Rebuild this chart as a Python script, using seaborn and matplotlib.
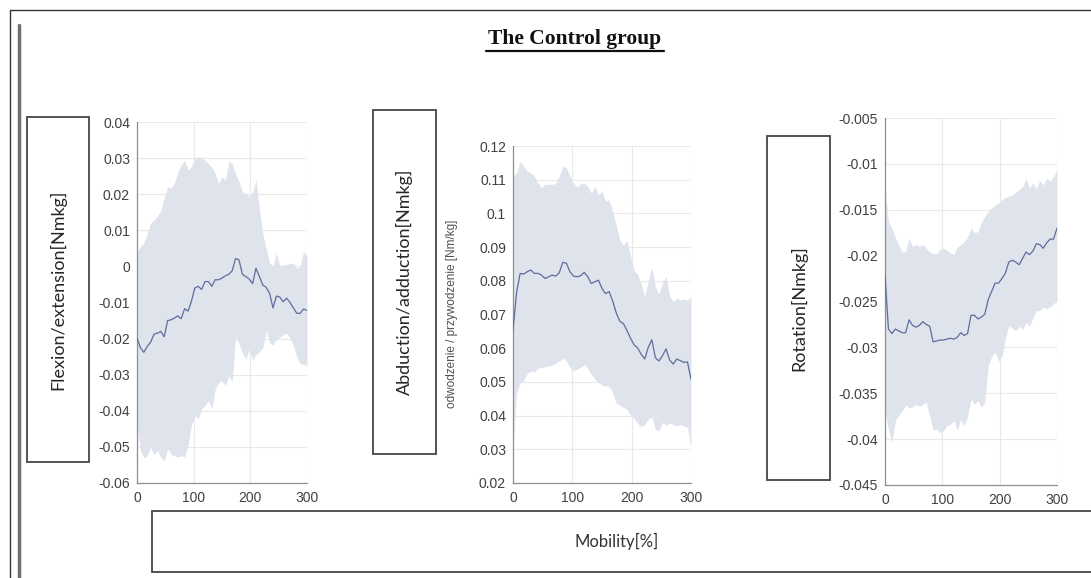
import numpy as np
import pandas as pd
import matplotlib
matplotlib.use("Agg")
import matplotlib.pyplot as plt
import seaborn as sns
from matplotlib.patches import Rectangle
from matplotlib.lines import Line2D

# ---- data: mean joint moment with its spread band, sampled along mobility [%] ----
mobility = list(range(0, 301, 6))

flex_mean = [-0.0198, -0.0225, -0.0238, -0.0222, -0.0210, -0.0188, -0.0185, -0.0180, -0.0195, -0.0150,
             -0.0148, -0.0143, -0.0137, -0.0145, -0.0117, -0.0124, -0.0097, -0.0060, -0.0055, -0.0064,
             -0.0042, -0.0042, -0.0055, -0.0037, -0.0037, -0.0032, -0.0026, -0.0022, -0.0012, 0.0022,
             0.0018, -0.0022, -0.0028, -0.0035, -0.0048, -0.0005, -0.0028, -0.0052, -0.0058, -0.0075,
             -0.0115, -0.0082, -0.0085, -0.0098, -0.0088, -0.0100, -0.0115, -0.0130, -0.0130, -0.0118,
             -0.0122]
flex_upper = [0.0040, 0.0055, 0.0065, 0.0090, 0.0120, 0.0128, 0.0140, 0.0155, 0.0190, 0.0220,
              0.0218, 0.0232, 0.0260, 0.0280, 0.0294, 0.0267, 0.0276, 0.0300, 0.0303, 0.0302,
              0.0294, 0.0285, 0.0275, 0.0257, 0.0230, 0.0248, 0.0239, 0.0290, 0.0285, 0.0255,
              0.0235, 0.0205, 0.0202, 0.0195, 0.0205, 0.0240, 0.0160, 0.0090, 0.0050, 0.0010,
              0.0000, 0.0038, 0.0000, 0.0005, 0.0005, 0.0008, 0.0009, -0.0005, 0.0000, 0.0041,
              0.0028]
flex_lower = [-0.0440, -0.0510, -0.0530, -0.0525, -0.0500, -0.0522, -0.0510, -0.0528, -0.0540, -0.0505,
              -0.0520, -0.0525, -0.0528, -0.0524, -0.0528, -0.0496, -0.0441, -0.0414, -0.0423, -0.0395,
              -0.0386, -0.0372, -0.0395, -0.0340, -0.0322, -0.0317, -0.0331, -0.0303, -0.0320, -0.0195,
              -0.0215, -0.0240, -0.0257, -0.0230, -0.0260, -0.0244, -0.0237, -0.0225, -0.0178, -0.0210,
              -0.0218, -0.0202, -0.0197, -0.0188, -0.0185, -0.0198, -0.0220, -0.0250, -0.0270, -0.0272,
              -0.0274]

abd_mean = [0.0653, 0.0765, 0.0822, 0.0820, 0.0827, 0.0832, 0.0822, 0.0822, 0.0817, 0.0807,
            0.0812, 0.0817, 0.0814, 0.0824, 0.0855, 0.0852, 0.0827, 0.0814, 0.0812, 0.0815,
            0.0825, 0.0812, 0.0792, 0.0797, 0.0802, 0.0777, 0.0762, 0.0768, 0.0740, 0.0705,
            0.0680, 0.0673, 0.0653, 0.0630, 0.0610, 0.0601, 0.0582, 0.0568, 0.0603, 0.0625,
            0.0572, 0.0562, 0.0578, 0.0598, 0.0565, 0.0553, 0.0568, 0.0563, 0.0558, 0.0559,
            0.0508]
abd_upper = [0.1110, 0.1120, 0.1155, 0.1140, 0.1125, 0.1120, 0.1110, 0.1090, 0.1076, 0.1086,
             0.1086, 0.1086, 0.1090, 0.1110, 0.1140, 0.1135, 0.1110, 0.1090, 0.1078, 0.1088,
             0.1090, 0.1080, 0.1060, 0.1080, 0.1056, 0.1066, 0.1036, 0.1040, 0.1005, 0.0965,
             0.0922, 0.0906, 0.0921, 0.0875, 0.0830, 0.0820, 0.0790, 0.0755, 0.0800, 0.0840,
             0.0782, 0.0760, 0.0795, 0.0812, 0.0755, 0.0738, 0.0748, 0.0742, 0.0746, 0.0743,
             0.0752]
abd_lower = [0.0310, 0.0465, 0.0498, 0.0505, 0.0525, 0.0532, 0.0530, 0.0540, 0.0543, 0.0545,
             0.0548, 0.0550, 0.0556, 0.0562, 0.0570, 0.0563, 0.0543, 0.0533, 0.0538, 0.0543,
             0.0552, 0.0540, 0.0522, 0.0508, 0.0498, 0.0490, 0.0489, 0.0485, 0.0470, 0.0437,
             0.0430, 0.0424, 0.0419, 0.0402, 0.0392, 0.0377, 0.0367, 0.0374, 0.0390, 0.0395,
             0.0358, 0.0355, 0.0380, 0.0372, 0.0378, 0.0374, 0.0369, 0.0374, 0.0369, 0.0365,
             0.0304]

rot_mean = [-0.0221, -0.0280, -0.0285, -0.0280, -0.0282, -0.0284, -0.0284, -0.0270, -0.0276, -0.0278,
            -0.0276, -0.0272, -0.0275, -0.0277, -0.0294, -0.0293, -0.0292, -0.0292, -0.0291, -0.0290,
            -0.0291, -0.0289, -0.0284, -0.0287, -0.0285, -0.0265, -0.0265, -0.0269, -0.0267, -0.0264,
            -0.0248, -0.0239, -0.0230, -0.0230, -0.0225, -0.0219, -0.0207, -0.0205, -0.0207, -0.0210,
            -0.0203, -0.0196, -0.0199, -0.0195, -0.0187, -0.0188, -0.0192, -0.0186, -0.0182, -0.0182,
            -0.0170]
rot_upper = [-0.0124, -0.0163, -0.0170, -0.0180, -0.0189, -0.0196, -0.0195, -0.0181, -0.0190, -0.0188,
             -0.0190, -0.0188, -0.0192, -0.0196, -0.0198, -0.0198, -0.0193, -0.0192, -0.0194, -0.0197,
             -0.0199, -0.0191, -0.0188, -0.0185, -0.0180, -0.0170, -0.0175, -0.0174, -0.0164, -0.0157,
             -0.0152, -0.0148, -0.0145, -0.0143, -0.0139, -0.0137, -0.0135, -0.0134, -0.0131, -0.0128,
             -0.0125, -0.0116, -0.0126, -0.0121, -0.0127, -0.0118, -0.0123, -0.0116, -0.0119, -0.0114,
             -0.0106]
rot_lower = [-0.0369, -0.0390, -0.0403, -0.0380, -0.0374, -0.0369, -0.0363, -0.0366, -0.0365, -0.0362,
             -0.0364, -0.0362, -0.0360, -0.0375, -0.0390, -0.0389, -0.0393, -0.0391, -0.0385, -0.0384,
             -0.0380, -0.0390, -0.0379, -0.0386, -0.0375, -0.0356, -0.0362, -0.0358, -0.0365, -0.0360,
             -0.0320, -0.0310, -0.0305, -0.0315, -0.0310, -0.0290, -0.0276, -0.0279, -0.0282, -0.0277,
             -0.0280, -0.0273, -0.0277, -0.0268, -0.0260, -0.0260, -0.0256, -0.0258, -0.0256, -0.0252,
             -0.0250]

x_ticks = [0, 100, 200, 300]
flex_ticks = [-0.06, -0.05, -0.04, -0.03, -0.02, -0.01, 0, 0.01, 0.02, 0.03, 0.04]
abd_ticks = [0.02, 0.03, 0.04, 0.05, 0.06, 0.07, 0.08, 0.09, 0.1, 0.11, 0.12]
rot_ticks = [-0.045, -0.04, -0.035, -0.03, -0.025, -0.02, -0.015, -0.01, -0.005]

title_text = "The Control group"
box_labels = ["Flexion/extension[Nmkg]", "Abduction/adduction[Nmkg]", "Rotation[Nmkg]"]
inner_ylabel = "odwodzenie / przywodzenie [Nm/kg]"
x_label = "Mobility[%]"

# ---- style ----
sns.set_theme(style="whitegrid")
plt.rcParams["font.family"] = ["Liberation Sans", "DejaVu Sans"]

W, H = 1091, 578
fig = plt.figure(figsize=(W / 100, H / 100), dpi=100)
fig.patch.set_facecolor("white")

LINE_C = "#5d6d9c"
FILL_C = "#dfe3ec"
TICK_C = "#404040"


def fx(px):
    return px / W


def fy(py):
    return 1 - py / H


def axes_at(left, top, right, bottom):
    return fig.add_axes([fx(left), fy(bottom), (right - left) / W, (bottom - top) / H])


panels = [
    ((137, 122, 307, 483), flex_mean, flex_lower, flex_upper, flex_ticks),
    ((513, 146, 691, 483), abd_mean, abd_lower, abd_upper, abd_ticks),
    ((885, 118, 1057, 485), rot_mean, rot_lower, rot_upper, rot_ticks),
]

for rect, mean, lower, upper, yt in panels:
    ax = axes_at(*rect)
    df = pd.DataFrame({"mobility": mobility, "mean": mean, "lower": lower, "upper": upper})
    ax.fill_between(df["mobility"], df["lower"], df["upper"], color=FILL_C, linewidth=0, zorder=1)
    sns.lineplot(data=df, x="mobility", y="mean", ax=ax, color=LINE_C, linewidth=0.9, zorder=3)
    ax.set_xlim(0, 300)
    ax.set_ylim(yt[0], yt[-1])
    ax.set_xticks(x_ticks)
    ax.set_yticks(yt)
    ax.set_yticklabels([f"{v:g}" for v in yt])
    ax.set_xlabel("")
    ax.set_ylabel("")
    ax.set_facecolor("white")
    ax.grid(True, color="#e9e9e9", linewidth=0.8)
    ax.set_axisbelow(True)
    for s in ("top", "right"):
        ax.spines[s].set_visible(False)
    for s in ("left", "bottom"):
        ax.spines[s].set_visible(True)
        ax.spines[s].set_color("#8f8f8f")
        ax.spines[s].set_linewidth(0.9)
    ax.tick_params(axis="both", labelsize=10, labelcolor=TICK_C, length=0)
    ax.tick_params(axis="y", pad=5)
    ax.tick_params(axis="x", pad=6)

# ---- page frame ----
fig.add_artist(Line2D([fx(10), fx(10)], [fy(10), fy(578)], transform=fig.transFigure,
                      color="#333333", linewidth=1.0))
fig.add_artist(Line2D([fx(10), fx(1091)], [fy(10), fy(10)], transform=fig.transFigure,
                      color="#333333", linewidth=1.0))
fig.add_artist(Line2D([fx(19), fx(19)], [fy(25), fy(578)], transform=fig.transFigure,
                      color="#707070", linewidth=2.5))

# ---- title ----
fig.text(fx(575), fy(39), title_text, ha="center", va="center", fontsize=15.5, fontweight="bold",
         family=["Liberation Serif", "DejaVu Serif"], color="#111111")
fig.add_artist(Line2D([fx(486), fx(664)], [fy(51), fy(51)], transform=fig.transFigure,
                      color="#111111", linewidth=1.6))

# ---- boxed axis titles ----
boxes = [(27, 117, 89, 462), (373, 110, 436, 454), (767, 136, 830, 480)]
for (l, t, r, b), label in zip(boxes, box_labels):
    fig.add_artist(Rectangle((fx(l), fy(b)), (r - l) / W, (b - t) / H, transform=fig.transFigure,
                             facecolor="white", edgecolor="#454545", linewidth=1.3))
    fig.text(fx((l + r) / 2), fy((t + b) / 2), label, rotation=90, ha="center", va="center",
             fontsize=13, family=["Lato", "DejaVu Sans"], color="#262626")

fig.text(fx(452), fy(314), inner_ylabel, rotation=90, ha="center", va="center",
         fontsize=8.5, color="#505050")

# ---- shared x label box ----
fig.add_artist(Rectangle((fx(152), fy(572)), (1100 - 152) / W, (572 - 511) / H,
                         transform=fig.transFigure, facecolor="white", edgecolor="#454545",
                         linewidth=1.3))
fig.text(fx(617), fy(541), x_label, ha="center", va="center", fontsize=12,
         family=["Lato", "DejaVu Sans"], color="#333333")

fig.savefig("out.png", dpi=100, facecolor="white")
